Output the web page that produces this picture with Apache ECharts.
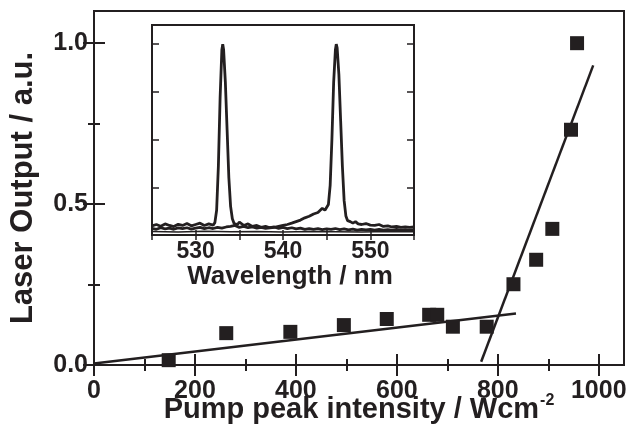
<!DOCTYPE html>
<html><head><meta charset="utf-8">
<script src="https://cdn.jsdelivr.net/npm/echarts@6/dist/echarts.min.js"></script>
<style>html,body{margin:0;padding:0;background:#fff}#c{width:633px;height:437px}</style>
</head><body><div id="c"></div>
<script>
// Main chart data
const pumpX = [148, 262, 389, 495, 580, 664, 680, 711, 778, 831, 876, 908, 945, 957];
const outputY = [0.015, 0.099, 0.103, 0.124, 0.143, 0.156, 0.156, 0.119, 0.119, 0.251, 0.327, 0.423, 0.731, 1.0];
const fitLowX = [0, 836];
const fitLowY = [0.005, 0.16];
const fitHighX = [767, 989];
const fitHighY = [0.01, 0.931];
const xMajorTicks = [0, 200, 400, 600, 800, 1000];
const xMinorTicks = [100, 300, 500, 700, 900];
const yMajorTicks = [0, 0.5, 1.0];
const yMinorTicks = [0.25, 0.75];

// Inset spectra
const specA_x = [525,525.5,526,526.5,527,527.5,528,528.5,529,529.5,530,530.5,531,531.5,532,532.2,532.4,532.6,532.8,533.0,533.1,533.2,533.4,533.6,533.8,534.0,534.2,534.4,534.6,534.8,535,535.5,536,536.5,537,537.5,538,538.5,539,539.5,540,540.5,541,541.5,542,542.5,543,543.5,544,544.5,545,545.5,546,546.5,547,547.5,548,548.5,549,549.5,550,550.5,551,551.5,552,552.5,553,553.5,554,554.5,555];
const specA_y = [0.048,0.055,0.046,0.058,0.05,0.044,0.056,0.05,0.06,0.048,0.055,0.062,0.05,0.058,0.052,0.065,0.13,0.36,0.72,0.97,1.0,0.97,0.8,0.55,0.3,0.15,0.085,0.06,0.07,0.055,0.068,0.05,0.058,0.045,0.05,0.04,0.045,0.038,0.042,0.035,0.04,0.033,0.038,0.032,0.036,0.03,0.034,0.03,0.033,0.028,0.032,0.03,0.034,0.028,0.032,0.027,0.031,0.026,0.03,0.027,0.03,0.026,0.029,0.025,0.028,0.026,0.029,0.025,0.028,0.026,0.027];
const specB_x = [525,525.5,526,526.5,527,527.5,528,528.5,529,529.5,530,530.5,531,531.5,532,532.5,533,533.5,534,534.5,535,535.5,536,536.5,537,537.5,538,538.5,539,539.5,540,540.5,541,541.5,542,542.5,543,543.5,544,544.5,544.8,545,545.2,545.4,545.6,545.8,546.0,546.1,546.2,546.4,546.6,546.8,547.0,547.2,547.4,547.7,548,548.3,548.6,549,549.5,550,550.5,551,551.5,552,552.5,553,553.5,554,554.5,555];
const specB_y = [0.035,0.03,0.038,0.032,0.036,0.03,0.037,0.033,0.038,0.031,0.036,0.04,0.033,0.038,0.034,0.04,0.036,0.042,0.045,0.05,0.04,0.045,0.038,0.042,0.036,0.04,0.035,0.038,0.04,0.045,0.05,0.055,0.062,0.07,0.078,0.09,0.098,0.11,0.118,0.14,0.13,0.135,0.16,0.26,0.5,0.8,0.97,1.0,0.98,0.84,0.6,0.36,0.18,0.1,0.075,0.07,0.062,0.07,0.058,0.055,0.06,0.052,0.05,0.055,0.045,0.048,0.042,0.045,0.04,0.043,0.04,0.042];
const specC_x = [525,528,531,534,537,540,543,546,549,552,555];
const specC_y = [0.018,0.016,0.019,0.017,0.018,0.016,0.018,0.017,0.016,0.018,0.017];
const insetXLabels = [530, 540, 550];
const insetYTicks = [0.25, 0.5, 0.75, 1.0];

const INK = '#231f20';
const FONT = 'Liberation Sans';
const zip = (xs, ys) => xs.map((x, i) => [x, ys[i]]);

const chart = echarts.init(document.getElementById('c'), null, {renderer: 'canvas'});

function tickAxis(extra) {
  return Object.assign({
    splitLine: {show: false},
    axisLine: {show: false},
    axisLabel: {show: false},
  }, extra);
}

const option = {
  animation: false,
  backgroundColor: '#fff',
  grid: [
    {left: 92, top: 11, right: 9, bottom: 72, show: true, borderColor: INK, borderWidth: 2, containLabel: false},
    {left: 152, top: 25, width: 262, height: 210, show: true, borderColor: INK, borderWidth: 2, backgroundColor: '#fff', z: 5}
  ],
  xAxis: [
    {type: 'value', gridIndex: 0, min: 0, max: 1050, position: 'bottom',
     axisLine: {show: true, onZero: false, lineStyle: {color: INK, width: 2}},
     axisTick: {show: true, inside: true, length: 11, lineStyle: {color: INK, width: 2}, customValues: xMajorTicks},
     axisLabel: {show: true, customValues: xMajorTicks, color: INK, fontFamily: FONT, fontWeight: 'bold', fontSize: 25, margin: 14,
       formatter: v => String(v)},
     splitLine: {show: false},
     name: '{a|Pump peak intensity / Wcm}{b|-2}', nameLocation: 'middle', nameGap: 28, nameMoveOverlap: false,
     nameTextStyle: {rich: {
       a: {fontFamily: FONT, fontWeight: 'bold', fontSize: 29, color: INK},
       b: {fontFamily: FONT, fontWeight: 'bold', fontSize: 16, color: INK, verticalAlign: 'top', padding: [0, 0, 18, 1]}
     }}},
    tickAxis({type: 'value', gridIndex: 0, min: 0, max: 1050, position: 'bottom',
     axisTick: {show: true, inside: true, length: 6, lineStyle: {color: INK, width: 2}, customValues: xMinorTicks}}),
    tickAxis({type: 'value', gridIndex: 0, min: 0, max: 1050, position: 'top',
     axisTick: {show: true, inside: true, length: 11, lineStyle: {color: INK, width: 2}, customValues: xMajorTicks}}),
    tickAxis({type: 'value', gridIndex: 0, min: 0, max: 1050, position: 'top',
     axisTick: {show: true, inside: true, length: 6, lineStyle: {color: INK, width: 2}, customValues: xMinorTicks}}),
    {type: 'value', gridIndex: 1, min: 525, max: 555, interval: 5, position: 'bottom', z: 8,
     axisLine: {show: false},
     axisTick: {show: true, inside: true, length: 5, lineStyle: {color: INK, width: 1.5}},
     axisLabel: {show: true, customValues: insetXLabels, color: INK, fontFamily: FONT, fontWeight: 'bold', fontSize: 23, margin: 5},
     splitLine: {show: false},
     name: 'Wavelength / nm', nameLocation: 'middle', nameGap: 20,
     nameTextStyle: {fontFamily: FONT, fontWeight: 'bold', fontSize: 26, color: INK, padding: [0, 0, 0, 14]}},
    tickAxis({type: 'value', gridIndex: 1, min: 525, max: 555, interval: 5, position: 'top', z: 8,
     axisTick: {show: true, inside: true, length: 5, lineStyle: {color: INK, width: 1.5}}})
  ],
  yAxis: [
    {type: 'value', gridIndex: 0, min: 0, max: 1.1, position: 'left',
     axisLine: {show: true, onZero: false, lineStyle: {color: INK, width: 2}},
     axisTick: {show: true, inside: true, length: 11, lineStyle: {color: INK, width: 2}, customValues: yMajorTicks},
     axisLabel: {show: true, customValues: yMajorTicks, color: INK, fontFamily: FONT, fontWeight: 'bold', fontSize: 25, margin: 6,
       formatter: v => v.toFixed(1)},
     splitLine: {show: false},
     name: 'Laser Output / a.u.', nameLocation: 'middle', nameGap: 55, nameMoveOverlap: false,
     nameTextStyle: {fontFamily: FONT, fontWeight: 'bold', fontSize: 31, color: INK}},
    tickAxis({type: 'value', gridIndex: 0, min: 0, max: 1.1, position: 'left',
     axisTick: {show: true, inside: true, length: 6, lineStyle: {color: INK, width: 2}, customValues: yMinorTicks}}),
    tickAxis({type: 'value', gridIndex: 0, min: 0, max: 1.1, position: 'right',
     axisTick: {show: true, inside: true, length: 11, lineStyle: {color: INK, width: 2}, customValues: yMajorTicks}}),
    tickAxis({type: 'value', gridIndex: 0, min: 0, max: 1.1, position: 'right',
     axisTick: {show: true, inside: true, length: 6, lineStyle: {color: INK, width: 2}, customValues: yMinorTicks}}),
    tickAxis({type: 'value', gridIndex: 1, min: 0, max: 1.1, position: 'left', z: 8,
     axisTick: {show: true, inside: true, length: 7, lineStyle: {color: INK, width: 1.5}, customValues: insetYTicks}}),
    tickAxis({type: 'value', gridIndex: 1, min: 0, max: 1.1, position: 'right', z: 8,
     axisTick: {show: true, inside: true, length: 7, lineStyle: {color: INK, width: 1.5}, customValues: insetYTicks}})
  ],
  series: [
    {type: 'line', xAxisIndex: 0, yAxisIndex: 0, data: zip(fitLowX, fitLowY), showSymbol: false, symbol: 'none',
     lineStyle: {color: INK, width: 2.5}, z: 3},
    {type: 'line', xAxisIndex: 0, yAxisIndex: 0, data: zip(fitHighX, fitHighY), showSymbol: false, symbol: 'none',
     lineStyle: {color: INK, width: 2.5}, z: 3},
    {type: 'scatter', xAxisIndex: 0, yAxisIndex: 0, data: zip(pumpX, outputY), symbol: 'rect', symbolSize: 14,
     itemStyle: {color: INK, opacity: 1}, z: 4},
    {type: 'line', xAxisIndex: 4, yAxisIndex: 4, data: zip(specC_x, specC_y), symbol: 'none',
     lineStyle: {color: INK, width: 1.5}, z: 6},
    {type: 'line', xAxisIndex: 4, yAxisIndex: 4, data: zip(specA_x, specA_y), symbol: 'none',
     lineStyle: {color: INK, width: 2.8}, z: 6},
    {type: 'line', xAxisIndex: 4, yAxisIndex: 4, data: zip(specB_x, specB_y), symbol: 'none',
     lineStyle: {color: INK, width: 2.8}, z: 6}
  ]
};
chart.setOption(option);
</script></body></html>
